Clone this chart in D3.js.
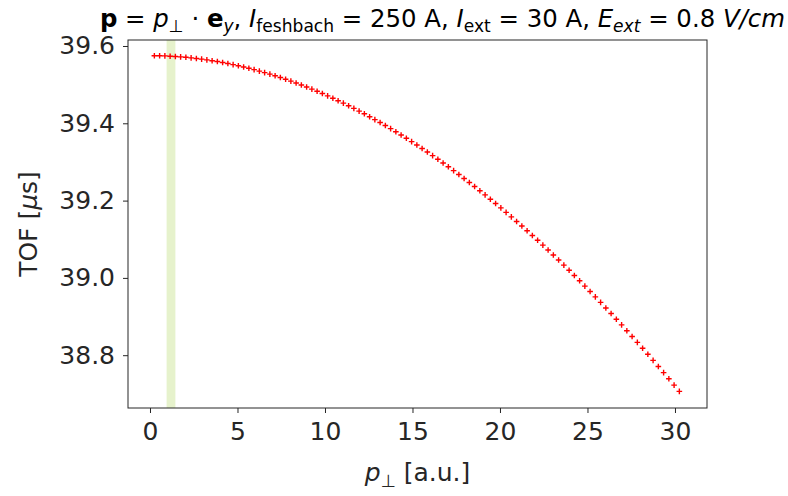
<!DOCTYPE html>
<html><head><meta charset="utf-8">
<script src="https://cdn.jsdelivr.net/npm/d3@7"></script>
<style>html,body{margin:0;padding:0;background:#fff;}svg{display:block;font-family:"DejaVu Sans",sans-serif;}</style>
</head><body><svg id="c" width="788" height="496"></svg>
<script>
// ---- data ----
const pPerp = [0.25,0.55,0.85,1.15,1.45,1.75,2.05,2.35,2.65,2.95,3.25,3.55,3.85,4.15,4.45,4.75,5.05,5.35,5.65,5.95,
6.25,6.55,6.85,7.15,7.45,7.75,8.05,8.35,8.65,8.95,9.25,9.55,9.85,10.15,10.45,10.75,11.05,11.35,11.65,11.95,
12.25,12.55,12.85,13.15,13.45,13.75,14.05,14.35,14.65,14.95,15.25,15.55,15.85,16.15,16.45,16.75,17.05,17.35,17.65,17.95,
18.25,18.55,18.85,19.15,19.45,19.75,20.05,20.35,20.65,20.95,21.25,21.55,21.85,22.15,22.45,22.75,23.05,23.35,23.65,23.95,
24.25,24.55,24.85,25.15,25.45,25.75,26.05,26.35,26.65,26.95,27.25,27.55,27.85,28.15,28.45,28.75,29.05,29.35,29.65,29.95,30.25];
const tof = [39.5749,39.5747,39.5743,39.5736,39.5728,39.5718,39.5707,39.5693,39.5678,39.5660,
39.5641,39.5620,39.5598,39.5573,39.5547,39.5519,39.5489,39.5457,39.5423,39.5388,
39.5351,39.5312,39.5272,39.5229,39.5185,39.5139,39.5092,39.5042,39.4991,39.4938,
39.4884,39.4828,39.4770,39.4710,39.4649,39.4585,39.4521,39.4454,39.4386,39.4316,
39.4245,39.4171,39.4096,39.4020,39.3942,39.3862,39.3780,39.3697,39.3612,39.3526,
39.3438,39.3348,39.3257,39.3164,39.3069,39.2973,39.2875,39.2776,39.2675,39.2573,
39.2469,39.2363,39.2256,39.2147,39.2036,39.1924,39.1811,39.1696,39.1579,39.1461,
39.1342,39.1220,39.1098,39.0974,39.0848,39.0721,39.0592,39.0462,39.0330,39.0197,
39.0062,38.9926,38.9788,38.9649,38.9508,38.9366,38.9223,38.9078,38.8932,38.8784,
38.8634,38.8484,38.8332,38.8178,38.8023,38.7867,38.7709,38.7550,38.7389,38.7227,38.7064];
const xTicks = [0,5,10,15,20,25,30];
const yTicks = [38.8,39.0,39.2,39.4,39.6];
const span = [0.95,1.45];

// ---- layout ----
const svg = d3.select("#c");
const L=128,R=707,T=40,B=408;
const x = d3.scaleLinear().domain([-1.257,31.83]).range([L,R]);
const y = d3.scaleLinear().domain([38.6634,39.6155]).range([B,T]);
const FS = 25;

// highlighted band
svg.append("rect").attr("x",x(span[0])).attr("y",T).attr("width",x(span[1])-x(span[0])).attr("height",B-T)
  .attr("fill","rgb(154,205,50)").attr("fill-opacity",0.25);

// markers
const g = svg.append("g").attr("stroke","#ff0000").attr("stroke-width",1.4).attr("fill","none");
g.selectAll("path").data(pPerp.map((d,i)=>[d,tof[i]])).join("path")
  .attr("d",d=>{const cx=x(d[0]),cy=y(d[1]),a=2.8;return `M${cx-a},${cy}H${cx+a}M${cx},${cy-a}V${cy+a}`;});

// axes
const xa = svg.append("g").attr("transform",`translate(0,${B})`)
  .call(d3.axisBottom(x).tickValues(xTicks).tickFormat(d3.format("d")).tickSize(5).tickPadding(9));
const ya = svg.append("g").attr("transform",`translate(${L},0)`)
  .call(d3.axisLeft(y).tickValues(yTicks).tickFormat(d3.format(".1f")).tickSize(5).tickPadding(8));
[xa,ya].forEach(a=>{a.select(".domain").remove();
  a.selectAll("text").attr("font-size",FS).attr("font-family","DejaVu Sans").attr("fill","#262626");
  a.selectAll("line").attr("stroke","#262626");});
svg.append("rect").attr("x",L).attr("y",T).attr("width",R-L).attr("height",B-T)
  .attr("fill","none").attr("stroke","#262626").attr("stroke-width",1);

// math-like text helper
function rich(sel, parts, fs){
  let shift=0;
  parts.forEach(p=>{
    const target = p.sub? fs*0.22:0;
    const ts = sel.append("tspan").text(p.t)
      .attr("font-size", p.sub? fs*0.7: fs)
      .attr("dy", target-shift);
    shift = target;
    if(p.i) ts.attr("font-style","italic");
    if(p.b) ts.attr("font-weight","bold");
  });
}
// title
const title = svg.append("text").attr("x",785).attr("y",27).attr("text-anchor","end").attr("fill","#000");
rich(title,[{t:"p",b:1},{t:" = "},{t:"p",i:1},{t:"⊥",sub:1},{t:" · "},{t:"e",b:1},{t:"y",i:1,sub:1},{t:", "},
 {t:"I",i:1},{t:"feshbach",sub:1},{t:" = 250 A, "},{t:"I",i:1},{t:"ext",sub:1},{t:" = 30 A, "},
 {t:"E",i:1},{t:"ext",i:1,sub:1},{t:" = 0.8 "},{t:"V/cm",i:1}],24.4);
// x label
const xl = svg.append("text").attr("x",(L+R)/2).attr("y",481).attr("text-anchor","middle").attr("fill","#262626");
rich(xl,[{t:"p",i:1},{t:"⊥",sub:1},{t:" [a.u.]"}],FS);
// y label
const yl = svg.append("text").attr("transform",`translate(37,${(T+B)/2}) rotate(-90)`).attr("text-anchor","middle").attr("fill","#262626");
rich(yl,[{t:"TOF ["},{t:"μ",i:1},{t:"s]"}],FS);
</script></body></html>
